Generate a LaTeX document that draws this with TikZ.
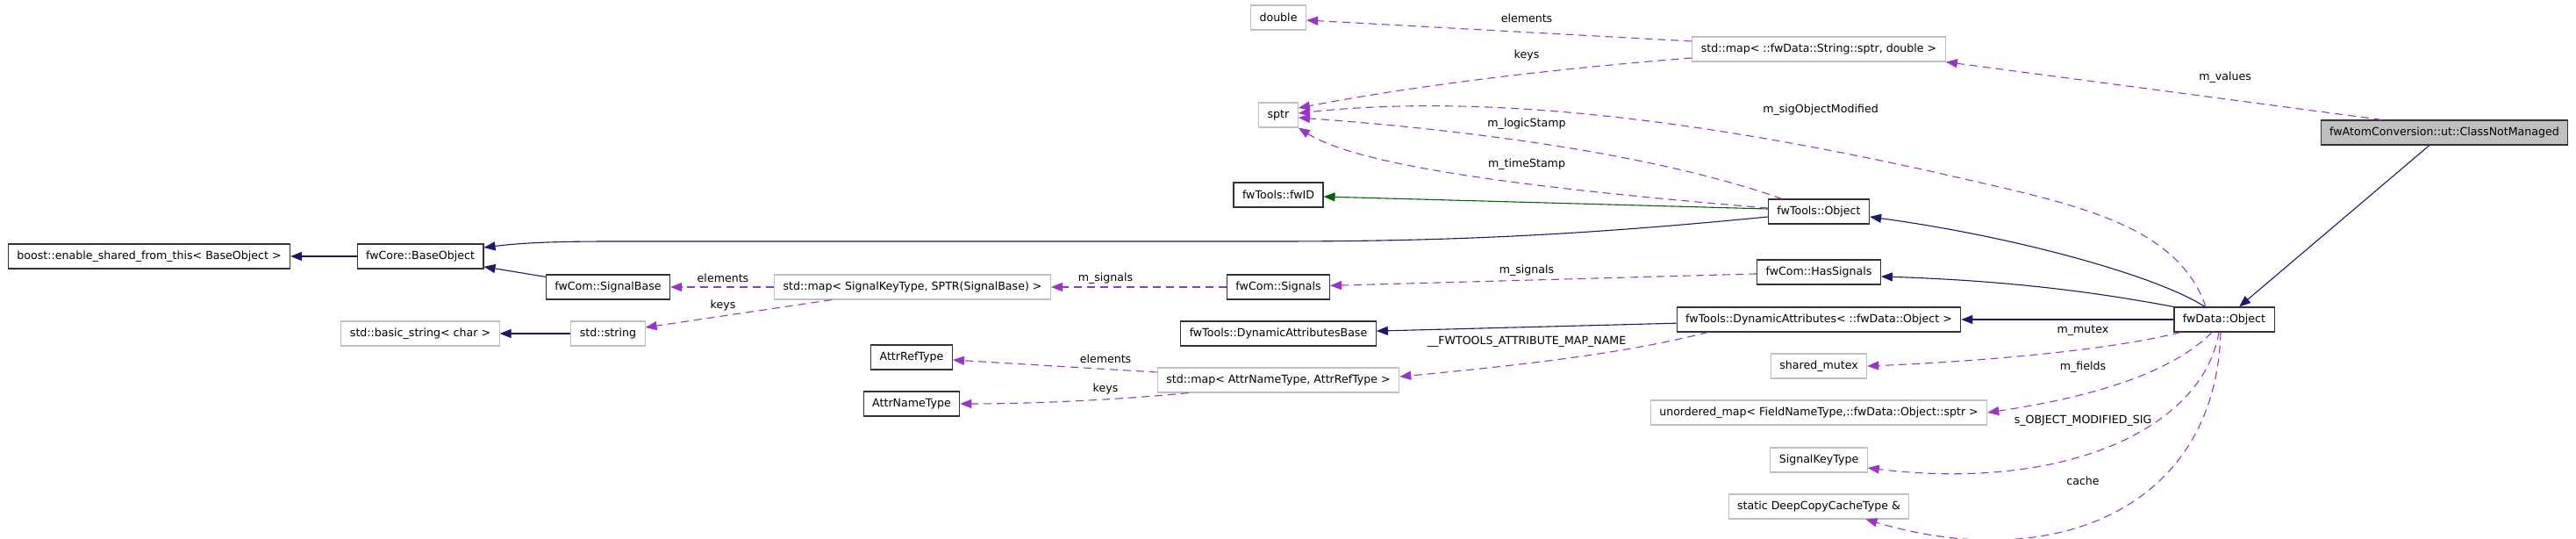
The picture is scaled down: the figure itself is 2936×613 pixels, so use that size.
\documentclass[tikz,border=0pt]{standalone}
\usepackage{fontspec}
\setmainfont{DejaVu Sans}
\usepackage{tikz}
\usetikzlibrary{arrows.meta,calc}
\definecolor{inhblue}{HTML}{191970}
\definecolor{protgreen}{HTML}{006400}
\definecolor{usepurple}{HTML}{9A32CD}
\definecolor{undocgray}{HTML}{BFBFBF}
\definecolor{docgray}{HTML}{333333}

\begin{document}
\begin{tikzpicture}[x=1pt, y=-1pt, font={\fontsize{12.6}{15}\selectfont},
    cls/.style={draw=docgray, line width=1.1pt, fill=white, minimum height=28pt, inner xsep=10pt, inner ysep=0pt},
    ext/.style={cls, draw=undocgray},
    inh/.style={draw=inhblue, line width=1.1pt, -{Triangle[length=13pt,width=10pt]}},
    prot/.style={inh, draw=protgreen},
    usage/.style={draw=usepurple, line width=1.1pt, dash pattern=on 9pt off 6pt, -{Triangle[length=13pt,width=10pt]}},
    lbl/.style={inner sep=1pt}]
    \useasboundingbox (0,0) rectangle (2936,613);

    % Classi
    \node[cls] (boost) at (170,292) {boost::enable\_shared\_from\_this< BaseObject >};
    \node[cls] (baseobj) at (479,292) {fwCore::BaseObject};
    \node[cls] (sigbase) at (693,327) {fwCom::SignalBase};
    \node[ext] (sigmap) at (1040,327) {std::map< SignalKeyType, SPTR(SignalBase) >};
    \node[ext] (basicstr) at (479,380) {std::basic\_string< char >};
    \node[ext] (stdstr) at (693,380) {std::string};
    \node[cls] (attrref) at (1039,407) {AttrRefType};
    \node[cls] (attrname) at (1039,460) {AttrNameType};
    \node[ext] (dbl) at (1457,20) {double};
    \node[ext] (sptr) at (1457,131) {sptr};
    \node[cls] (fwid) at (1457,222) {fwTools::fwID};
    \node[cls] (signals) at (1457,327) {fwCom::Signals};
    \node[cls] (dynbase) at (1457,380) {fwTools::DynamicAttributesBase};
    \node[ext] (attrmap) at (1457,433) {std::map< AttrNameType, AttrRefType >};
    \node[ext] (strmap) at (2073,56) {std::map< ::fwData::String::sptr, double >};
    \node[cls] (toolsobj) at (2073,241) {fwTools::Object};
    \node[cls] (hassig) at (2073,310) {fwCom::HasSignals};
    \node[cls] (dynattr) at (2073,364) {fwTools::DynamicAttributes< ::fwData::Object >};
    \node[ext] (mutex) at (2073,417) {shared\_mutex};
    \node[ext] (fieldmap) at (2073,470) {unordered\_map< FieldNameType,::fwData::Object::sptr >};
    \node[ext] (sigkey) at (2073,524) {SignalKeyType};
    \node[ext] (cachetype) at (2073,577) {static DeepCopyCacheType \&};
    \node[cls] (dataobj) at (2535,364) {fwData::Object};
    \node[cls, fill=undocgray] (notmanaged) at (2786,151) {fwAtomConversion::ut::ClassNotManaged};

    % Ereditarieta
    \draw[inh] (baseobj) -- (boost);
    \draw[inh] (sigbase) -- (baseobj);
    \draw[inh] (stdstr) -- (basicstr);
    \draw[inh] ($(toolsobj.west)+(0,6)$) .. controls (1800,268) and (1650,275) .. (1450,275) -- (700,275) .. controls (640,275) and (600,276) .. ($(baseobj.east)+(0,-10)$);
    \draw[prot] ($(toolsobj.west)+(0,-3)$) -- ($(fwid.east)+(0,2)$);
    \draw[inh] ($(dataobj.north)+(-22,0)$) .. controls (2460,315) and (2300,270) .. ($(toolsobj.east)+(0,6)$);
    \draw[inh] (dataobj.north west) .. controls (2400,335) and (2300,320) .. ($(hassig.east)+(0,5)$);
    \draw[inh] (dataobj) -- (dynattr);
    \draw[inh] (dynattr) -- (dynbase);
    \draw[inh] (notmanaged) -- (dataobj);

    % Relazioni d'uso
    \draw[usage] ($(notmanaged.north west)+(70,0)$) -- (strmap.south east);
    \draw[usage] ($(strmap.west)+(0,-9)$) -- ($(dbl.east)+(0,3)$);
    \draw[usage] ($(strmap.west)+(0,10)$) .. controls (1750,80) and (1600,100) .. ($(sptr.east)+(0,-8)$);
    \draw[usage] ($(dataobj.north)+(-21,0)$) .. controls (2480,250) and (2350,230) .. (2200,195) .. controls (1950,140) and (1700,105) .. ($(sptr.east)+(0,-2)$);
    \draw[usage] ($(toolsobj.north west)+(16,0)$) .. controls (1900,180) and (1700,150) .. ($(sptr.east)+(0,3)$);
    \draw[usage] ($(toolsobj.west)+(0,-4)$) .. controls (1750,215) and (1550,190) .. (sptr.south east);
    \draw[usage] (hassig) -- (signals);
    \draw[usage] (signals) -- (sigmap);
    \draw[usage] (sigmap) -- (sigbase);
    \draw[usage] ($(sigmap.south west)+(66,0)$) -- ($(stdstr.east)+(0,-7)$);
    \draw[usage] ($(dynattr.south west)+(36,0)$) .. controls (1880,395) and (1800,410) .. ($(attrmap.east)+(0,-4)$);
    \draw[usage] ($(attrmap.west)+(0,-9)$) -- ($(attrref.east)+(0,3)$);
    \draw[usage] ($(attrmap.south west)+(36,0)$) .. controls (1280,455) and (1180,460) .. (attrname.east);
    \draw[usage] ($(dataobj.south west)+(8,0)$) .. controls (2400,400) and (2250,412) .. (mutex.east);
    \draw[usage] ($(dataobj.south)+(-14,0)$) .. controls (2480,420) and (2400,450) .. (fieldmap.east);
    \draw[usage] ($(dataobj.south)+(-6,0)$) .. controls (2510,490) and (2350,560) .. ($(sigkey.east)+(0,9)$);
    \draw[usage] ($(dataobj.south)+(-4,0)$) .. controls (2525,580) and (2340,655) .. ($(cachetype.south east)+(-50,0)$);

    % Etichette
    \node[lbl] (l-values) at (2536,88) {m\_values};
    \node[lbl] (l-elem1) at (1740,21) {elements};
    \node[lbl] (l-keys1) at (1740,63) {keys};
    \node[lbl] (l-sigmod) at (2075,125) {m\_sigObjectModified};
    \node[lbl] (l-logic) at (1740,141) {m\_logicStamp};
    \node[lbl] (l-time) at (1740,187) {m\_timeStamp};
    \node[lbl] (l-signals1) at (1740,308) {m\_signals};
    \node[lbl] (l-signals2) at (1260,317) {m\_signals};
    \node[lbl] (l-elem2) at (824,317) {elements};
    \node[lbl] (l-keys2) at (824,348) {keys};
    \node[lbl] (l-attrmap) at (1740,389) {\_\_FWTOOLS\_ATTRIBUTE\_MAP\_NAME};
    \node[lbl] (l-elem3) at (1260,409) {elements};
    \node[lbl] (l-keys3) at (1260,443) {keys};
    \node[lbl] (l-mutex) at (2374,377) {m\_mutex};
    \node[lbl] (l-fields) at (2374,418) {m\_fields};
    \node[lbl] (l-sig) at (2374,479) {s\_OBJECT\_MODIFIED\_SIG};
    \node[lbl] (l-cache) at (2374,548) {cache};
\end{tikzpicture}
\end{document}
